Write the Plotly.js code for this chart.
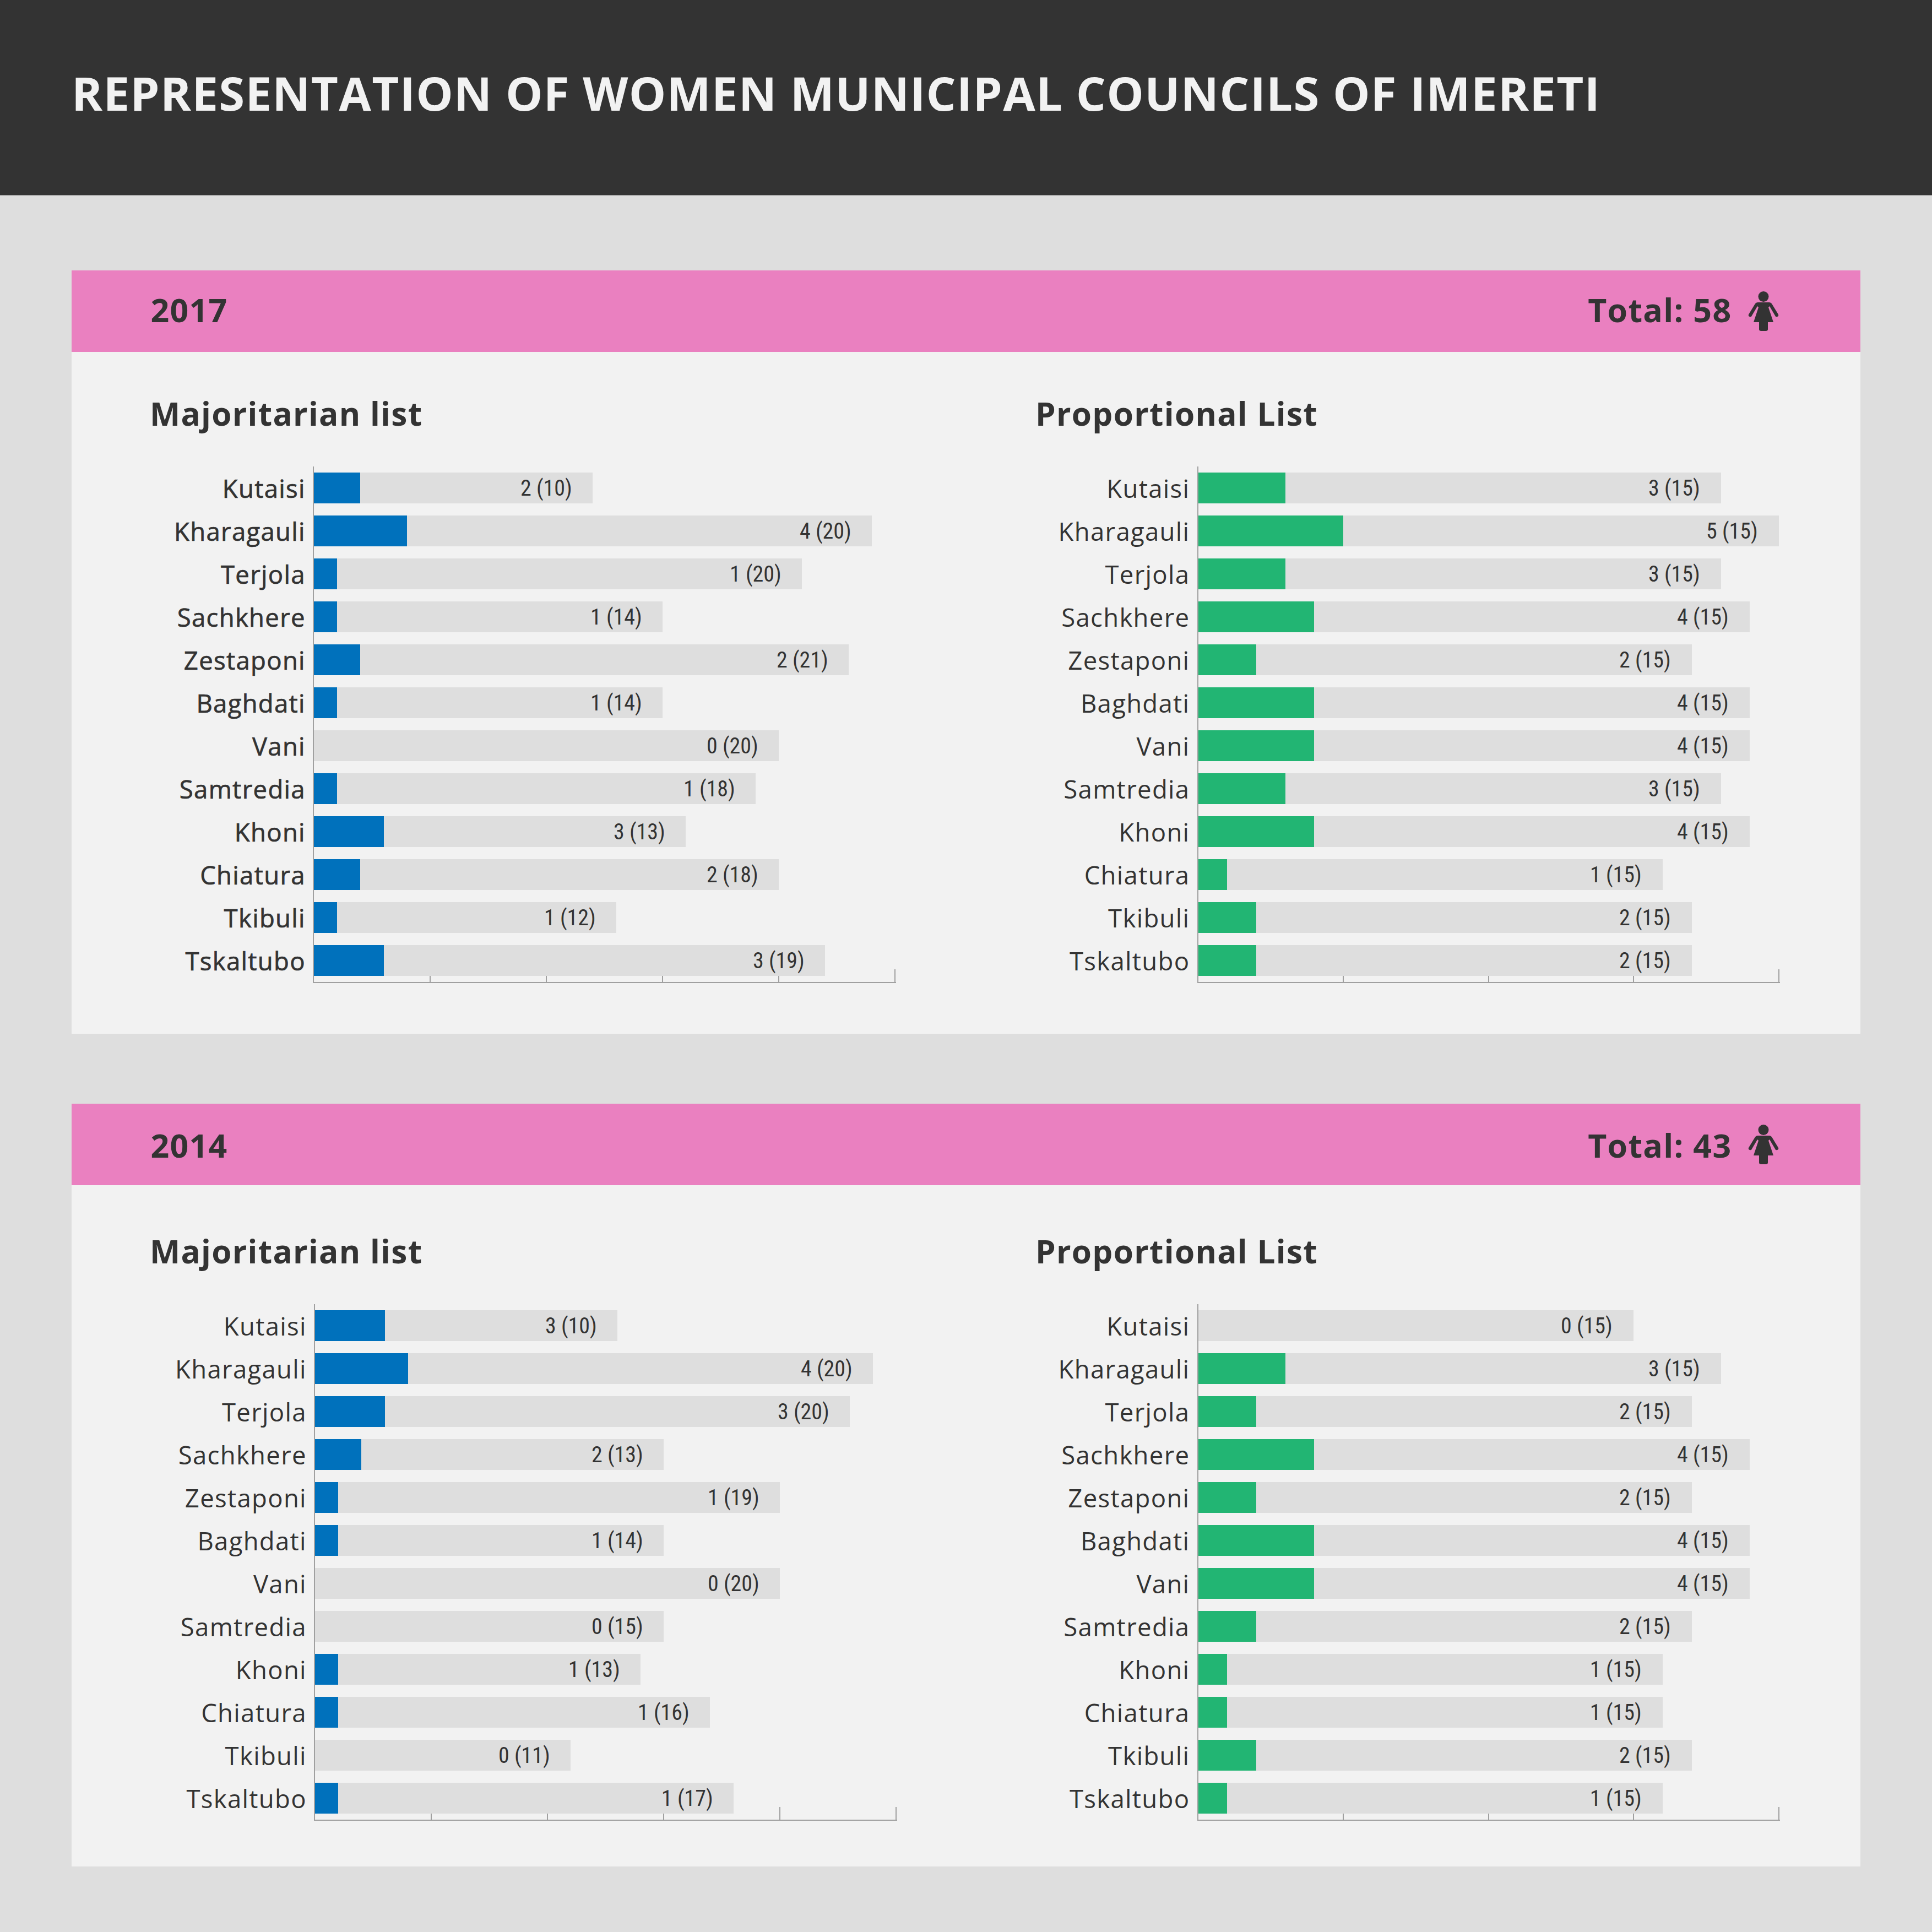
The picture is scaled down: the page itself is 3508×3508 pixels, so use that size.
<!DOCTYPE html>
<html>
<head>
<meta charset="utf-8">
<script src="https://cdn.plot.ly/plotly-3.0.1.min.js"></script>
<style>
html,body{margin:0;padding:0;background:#dedede}
#chart text[style*="Open Sans"]{letter-spacing:1.3px}
#chart .ytick text{stroke:#333333;stroke-width:0.7px}
</style>
</head>
<body>
<div id="chart" style="width:3508px;height:3508px"></div>
<script>
var SIZE = 3508;
var TRACKING = 1.3;

var towns = ['Kutaisi', 'Kharagauli', 'Terjola', 'Sachkhere', 'Zestaponi', 'Baghdati', 'Vani', 'Samtredia', 'Khoni', 'Chiatura', 'Tkibuli', 'Tskaltubo'];

// women elected, and the number printed in brackets (the grey part of the bar)
var maj2017Women = [2, 4, 1, 1, 2, 1, 0, 1, 3, 2, 1, 3];
var maj2017Other = [10, 20, 20, 14, 21, 14, 20, 18, 13, 18, 12, 19];
var prop2017Women = [3, 5, 3, 4, 2, 4, 4, 3, 4, 1, 2, 2];
var prop2017Other = [15, 15, 15, 15, 15, 15, 15, 15, 15, 15, 15, 15];
var maj2014Women = [3, 4, 3, 2, 1, 1, 0, 0, 1, 1, 0, 1];
var maj2014Other = [10, 20, 20, 13, 19, 14, 20, 15, 13, 16, 11, 17];
var prop2014Women = [0, 3, 2, 4, 2, 4, 4, 2, 1, 1, 2, 1];
var prop2014Other = [15, 15, 15, 15, 15, 15, 15, 15, 15, 15, 15, 15];

var years = ['2017', '2014'];
var totals = [58, 43];

var titleText = 'REPRESENTATION OF WOMEN MUNICIPAL COUNCILS OF IMERETI';
var majTitle = 'Majoritarian list';
var propTitle = 'Proportional List';

var DARK = '#333333', PINK = '#ea80c0', PANEL = '#f2f2f2', PAGE = '#dedede';
var BLUE = '#0071bc', GREEN = '#22b573', AXIS = '#a0a0a0';
var LABEL_FONT = 'Open Sans', VALUE_FONT = 'Roboto Condensed, Roboto';

function px(x) { return x / SIZE; }
function py(y) { return 1 - y / SIZE; }

function rect(x0, y0, x1, y1, color) {
    return {type: 'rect', xref: 'paper', yref: 'paper', x0: px(x0), x1: px(x1), y0: py(y0), y1: py(y1),
        fillcolor: color, line: {width: 0}, layer: 'below'};
}

function label(x, baseline, text, size, anchor) {
    // plotly measures the box without the css tracking, so correct for half of it
    var extra = text.length * TRACKING / 2;
    var xPos = anchor === 'left' ? x + extra : x - extra;
    return {xref: 'paper', yref: 'paper', x: px(xPos), y: py(baseline + size * 0.293), xanchor: anchor, yanchor: 'bottom',
        text: '<b>' + text + '</b>', showarrow: false, borderpad: 0, borderwidth: 0,
        font: {family: LABEL_FONT, size: size, color: DARK}};
}

function womanPath(cx, bandTop) {
    var p = function (dx, dy) { return px(cx + dx) + ' ' + py(bandTop + dy); };
    var pts = [
        'M', p(-10, 58), 'L', p(10, 58), 'Q', p(14, 58), p(16, 62), 'L', p(27, 80), 'Q', p(28, 83), p(25, 84),
        'Q', p(22, 85), p(21, 82), 'L', p(11, 65), 'L', p(9, 67), 'L', p(18, 94), 'L', p(8, 94), 'L', p(8, 107),
        'Q', p(8, 110), p(4, 110), 'L', p(-4, 110), 'Q', p(-8, 110), p(-8, 107), 'L', p(-8, 94), 'L', p(-18, 94),
        'L', p(-9, 67), 'L', p(-11, 65), 'L', p(-21, 82), 'Q', p(-22, 85), p(-25, 84), 'Q', p(-28, 83), p(-27, 80),
        'L', p(-16, 62), 'Q', p(-14, 58), p(-10, 58), 'Z'
    ];
    return pts.join(' ');
}

var charts = [
    {women: maj2017Women, other: maj2017Other, color: BLUE, max: 25, left: 570, right: 1625, top: 847, bottom: 1783, pad: 37},
    {women: prop2017Women, other: prop2017Other, color: GREEN, max: 20, left: 2175.5, right: 3230, top: 847, bottom: 1783, pad: 38},
    {women: maj2014Women, other: maj2014Other, color: BLUE, max: 25, left: 572, right: 1627, top: 2368, bottom: 3304, pad: 37},
    {women: prop2014Women, other: prop2014Other, color: GREEN, max: 20, left: 2175.5, right: 3230, top: 2368, bottom: 3304, pad: 38}
];

var data = [];
var layout = {
    width: SIZE,
    height: SIZE,
    margin: {l: 0, r: 0, t: 0, b: 0},
    paper_bgcolor: PAGE,
    plot_bgcolor: 'rgba(0,0,0,0)',
    showlegend: false,
    barmode: 'stack',
    bargap: 0.273,
    title: {text: '<b>' + titleText + '</b>', x: px(130), xanchor: 'left', y: py(141), yanchor: 'top',
        font: {family: LABEL_FONT, size: 85, color: '#f2f2f2'}},
    shapes: [rect(0, 0, SIZE, 354.5, DARK)],
    annotations: []
};

// two panels, each with a pink band
var panelTops = [491, 2004];
var panelBottoms = [1877, 3389];
var bandBaselines = [94, 98];
var subtitleBaselines = [773, 2294];
for (var i = 0; i < 2; i++) {
    var bandTop = panelTops[i];
    layout.shapes.push(rect(130, bandTop, 3378, panelBottoms[i], PANEL));
    layout.shapes.push(rect(130, bandTop, 3378, bandTop + 148, PINK));
    layout.shapes.push({type: 'circle', xref: 'paper', yref: 'paper', x0: px(3192.5), x1: px(3211.5), y0: py(bandTop + 38), y1: py(bandTop + 57),
        fillcolor: DARK, line: {width: 0}});
    layout.shapes.push({type: 'path', xref: 'paper', yref: 'paper', path: womanPath(3202, bandTop), fillcolor: DARK, line: {width: 0}});
    layout.annotations.push(label(273, bandTop + bandBaselines[i], years[i], 59, 'left'));
    layout.annotations.push(label(3145, bandTop + bandBaselines[i], 'Total: ' + totals[i], 59, 'right'));
    layout.annotations.push(label(272, subtitleBaselines[i], majTitle, 58.5, 'left'));
    layout.annotations.push(label(1880, subtitleBaselines[i], propTitle, 58.5, 'left'));
}

charts.forEach(function (c, n) {
    var id = n === 0 ? '' : String(n + 1);
    var xName = 'xaxis' + id, yName = 'yaxis' + id;
    var xRef = 'x' + id, yRef = 'y' + id;

    data.push({type: 'bar', orientation: 'h', x: c.women, y: towns, xaxis: xRef, yaxis: yRef,
        marker: {color: c.color, line: {width: 0}}, hoverinfo: 'skip'});
    data.push({type: 'bar', orientation: 'h', x: c.other, y: towns, xaxis: xRef, yaxis: yRef,
        marker: {color: PAGE, line: {width: 0}}, hoverinfo: 'skip'});

    // plotly drops an inside tick that sits on the end of the axis, so run the axis 2px past it
    var width = c.right - c.left;
    layout[xName] = {
        domain: [px(c.left), px(c.right + 2)], range: [0, c.max * (width + 2) / width], anchor: yRef, dtick: 5, tick0: 0,
        ticks: 'inside', ticklen: 23, tickwidth: 2, tickcolor: AXIS, showticklabels: false,
        showgrid: false, zeroline: false, showline: true, linecolor: AXIS, linewidth: 2, layer: 'below traces'
    };
    layout[yName] = {
        domain: [py(c.bottom), py(c.top)], type: 'category', categoryorder: 'array', categoryarray: towns,
        range: [11.5, -0.5], anchor: xRef, ticks: '', ticklabelstandoff: 4, ticklabelshift: -2,
        tickfont: {family: LABEL_FONT, size: 45.5, color: DARK},
        showgrid: false, zeroline: false, showline: true, linecolor: AXIS, linewidth: 2, layer: 'below traces'
    };

    towns.forEach(function (town, k) {
        layout.annotations.push({xref: xRef, yref: yRef, x: c.women[k] + c.other[k], y: town, xanchor: 'right', yanchor: 'middle',
            xshift: -c.pad, text: c.women[k] + ' (' + c.other[k] + ')', showarrow: false, borderpad: 0, borderwidth: 0,
            font: {family: VALUE_FONT, size: 40, color: DARK}});
    });
});

Plotly.newPlot('chart', data, layout, {displayModeBar: false});
</script>
</body>
</html>
